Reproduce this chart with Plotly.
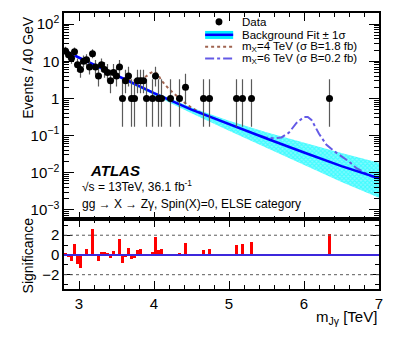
import plotly.graph_objects as go

# observed events per 40 GeV bin (bin centres in TeV)
data_x = [2.82, 2.86, 2.90, 2.94, 2.98, 3.02, 3.06, 3.10, 3.14, 3.18,
          3.22, 3.26, 3.30, 3.34, 3.38, 3.42, 3.46, 3.50, 3.54, 3.58,
          3.62, 3.66, 3.70, 3.74, 3.78, 3.82, 3.86, 3.90, 3.98, 4.02,
          4.06, 4.10, 4.22, 4.34, 4.42, 4.66, 4.74, 5.10, 5.18, 5.30, 6.34]
data_y = [19, 15, 12, 18, 8, 6, 10, 11, 7, 16,
          7, 4, 8, 6, 5, 3, 5, 4, 7, 1,
          3, 4, 1, 1, 3, 3, 3, 1, 1, 4,
          1, 1, 1, 1, 2, 1, 1, 1, 1, 1, 1]

# 68% Poisson intervals (down, up) per observed count
poisson_err = {1: (0.827, 2.300), 2: (1.291, 2.638), 3: (1.633, 2.918),
               4: (1.914, 3.162), 5: (2.159, 3.382), 6: (2.380, 3.583),
               7: (2.581, 3.770), 8: (2.768, 3.944), 10: (3.108, 4.266),
               11: (3.265, 4.416), 12: (3.414, 4.559), 15: (3.826, 4.958),
               16: (3.953, 5.083), 18: (4.193, 5.321), 19: (4.307, 5.435)}

# background fit and +-1 sigma band
bkg_x = [2.8, 3.0, 3.25, 3.5, 3.75, 4.0, 4.5, 5.0, 5.5, 6.0, 6.5, 7.0]
bkg_y = [19.5, 12.6, 7.1, 4.07, 2.34, 1.38, 0.50, 0.20, 0.083, 0.035, 0.015, 0.0070]
band_hi = [20.9, 13.5, 7.6, 4.36, 2.52, 1.51, 0.57, 0.25, 0.123, 0.064, 0.034, 0.0185]
band_lo = [18.2, 11.8, 6.6, 3.80, 2.17, 1.23, 0.40, 0.135, 0.047, 0.0164, 0.0056, 0.0021]

# signal + background, mX = 4 TeV
sig4_x = [3.5, 3.6, 3.7, 3.8, 3.9, 3.95, 4.0, 4.05, 4.1, 4.2, 4.3, 4.4, 4.5, 4.6, 4.7]
sig4_y = [4.07, 3.39, 2.95, 3.16, 3.98, 4.79, 5.37, 4.47, 3.02, 1.78, 1.15, 0.79, 0.56, 0.43, 0.35]

# signal + background, mX = 6 TeV
sig6_x = [5.4, 5.5, 5.6, 5.7, 5.8, 5.9, 6.0, 6.05, 6.1, 6.2, 6.3, 6.4, 6.5, 6.6, 6.7, 6.8, 6.9, 7.0]
sig6_y = [0.100, 0.087, 0.085, 0.089, 0.120, 0.219, 0.316, 0.316, 0.263, 0.112,
          0.056, 0.038, 0.0275, 0.020, 0.0132, 0.010, 0.0079, 0.0070]

# significance per bin
signif_x = [2.82, 2.86, 2.90, 2.94, 2.98, 3.02, 3.06, 3.10, 3.14, 3.18,
            3.22, 3.26, 3.30, 3.34, 3.38, 3.42, 3.46, 3.50, 3.54, 3.58,
            3.62, 3.66, 3.70, 3.74, 3.78, 3.82, 3.86, 3.90, 3.98, 4.02,
            4.06, 4.10, 4.22, 4.34, 4.42, 4.66, 4.74, 5.10, 5.18, 5.30, 6.34]
signif_y = [0.2, -0.3, -0.7, 1.1, -1.0, -1.4, 0.05, 0.6, -0.2, 2.6,
            0.05, -0.7, 0.3, 0.3, 0.1, -0.4, 0.4, 0.05, 1.6, -0.9,
            -0.3, 0.7, -0.5, -0.4, 0.5, 0.6, -0.1, -0.05, 0.3, 1.8,
            0.5, 0.6, -0.2, 0.2, 1.2, 0.5, 0.6, 1.0, 1.1, 1.3, 2.1]

y_tickvals = [1e-3, 1e-2, 1e-1, 1, 10, 100]
y_ticktext = ['10<sup>\u22123</sup>', '10<sup>\u22122</sup>', '10<sup>\u22121</sup>', '1', '10', '10<sup>2</sup>']
x_tickvals = [3, 4, 5, 6, 7]

FONT = 'Liberation Sans, Arial, sans-serif'

err_lo = [poisson_err[n][0] for n in data_y]
err_hi = [poisson_err[n][1] for n in data_y]
minor_log = [m * 10 ** e for e in range(-4, 3) for m in range(2, 10)]

fig = go.Figure()

fig.add_trace(go.Scatter(x=bkg_x, y=band_hi, mode='lines', line=dict(width=0),
                         showlegend=False, hoverinfo='skip'))
fig.add_trace(go.Scatter(x=bkg_x, y=band_lo, mode='lines', line=dict(width=0),
                         fill='tonexty', fillcolor='rgba(0,240,255,0.75)',
                         fillpattern=dict(shape='x', fgcolor='rgb(0,255,255)',
                                          bgcolor='rgba(120,250,255,0.9)', size=3, solidity=0.6),
                         showlegend=False, hoverinfo='skip'))
fig.add_trace(go.Scatter(x=sig4_x, y=sig4_y, mode='lines',
                         line=dict(color='rgb(160,100,80)', width=2, dash='dot'),
                         showlegend=False))
fig.add_trace(go.Scatter(x=sig6_x, y=sig6_y, mode='lines',
                         line=dict(color='rgb(100,90,230)', width=2, dash='dashdot'),
                         showlegend=False))
fig.add_trace(go.Scatter(x=bkg_x, y=bkg_y, mode='lines',
                         line=dict(color='rgb(0,0,255)', width=2.5), showlegend=False))
fig.add_trace(go.Scatter(x=data_x, y=data_y, mode='markers',
                         marker=dict(color='black', size=7),
                         error_y=dict(type='data', array=err_hi, arrayminus=err_lo,
                                      color='rgb(90,90,90)', thickness=1.2, width=0),
                         showlegend=False))

fig.add_trace(go.Bar(x=signif_x, y=signif_y, width=0.04, marker=dict(color='red', line=dict(width=0)),
                     xaxis='x2', yaxis='y2', showlegend=False))

axis_common = dict(ticks='inside', mirror='allticks', showline=True, linecolor='black',
                   linewidth=1.5, tickcolor='black', showgrid=False, zeroline=False,
                   tickfont=dict(family=FONT, size=15, color='black'))

# the page body keeps its default 8px margin, so the figure is 8px smaller
fig.update_layout(
    width=391, height=329,
    margin=dict(l=56, r=20, t=3, b=48),
    paper_bgcolor='white', plot_bgcolor='white',
    bargap=0,
    xaxis=dict(axis_common, domain=[0, 1], anchor='y', range=[2.8, 7], tickvals=x_tickvals,
               showticklabels=False, ticklen=8,
               minor=dict(ticks='inside', dtick=0.2, tick0=2.8, ticklen=4, tickcolor='black')),
    yaxis=dict(axis_common, domain=[0.252, 1], anchor='x', type='log', range=[-3.26, 2.30],
               tickvals=y_tickvals, ticktext=y_ticktext, ticklen=10,
               minor=dict(ticks='inside', tickvals=minor_log, ticklen=5, tickcolor='black')),
    xaxis2=dict(axis_common, domain=[0, 1], anchor='y2', range=[2.8, 7], tickvals=x_tickvals,
                ticklen=8, matches='x',
                minor=dict(ticks='inside', dtick=0.2, tick0=2.8, ticklen=4, tickcolor='black')),
    yaxis2=dict(axis_common, domain=[0, 0.252], anchor='x2', range=[-3.45, 3.6],
                tickvals=[-2, 0, 2], ticktext=['\u22122', '0', '2'], ticklen=8,
                minor=dict(ticks='inside', dtick=1, ticklen=4, tickcolor='black')),
)

# reference lines in the significance panel
fig.add_shape(type='line', xref='x2 domain', yref='y2', x0=0, x1=1, y0=0, y1=0,
              line=dict(color='rgb(60,40,220)', width=2))
for lvl in (-2, 2):
    fig.add_shape(type='line', xref='x2 domain', yref='y2', x0=0, x1=1, y0=lvl, y1=lvl,
                  line=dict(color='rgb(90,90,90)', width=1, dash='dot'))

# hand-made legend
fig.add_shape(type='circle', xref='paper', yref='paper', x0=0.481, x1=0.503, y0=0.955, y1=0.981,
              fillcolor='black', line=dict(width=0))
fig.add_shape(type='rect', xref='paper', yref='paper', x0=0.448, x1=0.537, y0=0.906, y1=0.935,
              fillcolor='rgb(0,240,255)', line=dict(width=0))
fig.add_shape(type='line', xref='paper', yref='paper', x0=0.448, x1=0.537, y0=0.921, y1=0.921,
              line=dict(color='rgb(0,0,255)', width=2.5))
fig.add_shape(type='line', xref='paper', yref='paper', x0=0.448, x1=0.537, y0=0.878, y1=0.878,
              line=dict(color='rgb(160,100,80)', width=2, dash='dot'))
fig.add_shape(type='line', xref='paper', yref='paper', x0=0.448, x1=0.537, y0=0.835, y1=0.835,
              line=dict(color='rgb(100,90,230)', width=2, dash='dashdot'))

legend_text = ['Data', 'Background Fit \u00b1 1\u03c3',
               'm<sub>X</sub>=4 TeV (\u03c3 B=1.8 fb)', 'm<sub>X</sub>=6 TeV (\u03c3 B=0.2 fb)']
for txt, yy in zip(legend_text, [0.968, 0.921, 0.878, 0.835]):
    fig.add_annotation(text=txt, xref='paper', yref='paper', x=0.559, y=yy,
                       xanchor='left', yanchor='middle', showarrow=False,
                       font=dict(family=FONT, size=11.5, color='black'))

# labels
fig.add_annotation(text='<b><i>ATLAS</i></b>', xref='paper', yref='paper', x=0.076, y=0.428,
                   xanchor='left', yanchor='middle', showarrow=False,
                   font=dict(family=FONT, size=15, color='black'))
fig.add_annotation(text='\u221as = 13TeV, 36.1 fb<sup>-1</sup>', xref='paper', yref='paper',
                   x=0.051, y=0.374, xanchor='left', yanchor='middle', showarrow=False,
                   font=dict(family=FONT, size=12, color='black'))
fig.add_annotation(text='gg \u2192 X \u2192 Z\u03b3, Spin(X)=0, ELSE category', xref='paper', yref='paper',
                   x=0.051, y=0.309, xanchor='left', yanchor='middle', showarrow=False,
                   font=dict(family=FONT, size=12, color='black'))

fig.add_annotation(text='Events / 40 GeV', xref='paper', yref='paper', x=-0.117, y=0.996,
                   xanchor='center', yanchor='top', textangle=-90, showarrow=False,
                   font=dict(family=FONT, size=14, color='black'))
fig.add_annotation(text='Significance', xref='paper', yref='paper', x=-0.114, y=0.122,
                   xanchor='center', yanchor='middle', textangle=-90, showarrow=False,
                   font=dict(family=FONT, size=14, color='black'))
fig.add_annotation(text='m<sub>J\u03b3</sub> [TeV]', xref='paper', yref='paper', x=1.0, y=-0.104,
                   xanchor='right', yanchor='middle', showarrow=False,
                   font=dict(family=FONT, size=15, color='black'))

fig.write_html("out.html")
